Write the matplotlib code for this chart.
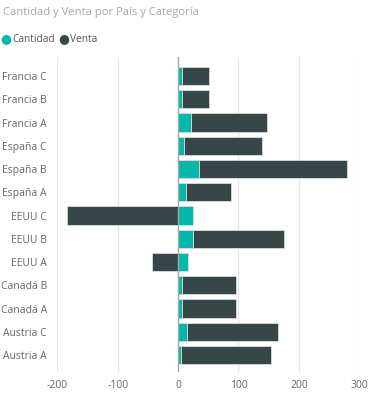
import matplotlib
matplotlib.use("Agg")
import matplotlib.pyplot as plt
import numpy as np

# categorias de arriba hacia abajo
categorias = ["Francia C", "Francia B", "Francia A", "España C", "España B", "España A",
              "EEUU C", "EEUU B", "EEUU A", "Canadá B", "Canadá A", "Austria C", "Austria A"]
cantidad = [6, 6, 22, 9, 34, 13, 24, 24, 17, 6, 6, 15, 4]
venta = [45, 45, 125, 130, 246, 75, -184, 151, -44, 90, 90, 150, 150]
ticks_x = [-200, -100, 0, 100, 200, 300]

color_cant = "#01B8AA"
color_venta = "#374649"

plt.rcParams['font.family'] = ['Open Sans', 'DejaVu Sans']

fig = plt.figure(figsize=(3.71, 3.94), dpi=100)
ax = fig.add_axes([57.3 / 371, 1 - 372 / 394, 302 / 371, 315 / 394])

n = len(categorias)
y = np.arange(n)[::-1]
cant = np.array(cantidad)
ven = np.array(venta)
izq_venta = np.where(ven > 0, cant, 0)

ax.barh(y, cant, height=0.78, color=color_cant, edgecolor="#d8dcdc", linewidth=0.6, zorder=3)
ax.barh(y, ven, left=izq_venta, height=0.78, color=color_venta, edgecolor="#d8dcdc",
        linewidth=0.6, zorder=3)

ax.set_xlim(-200, 300)
ax.set_ylim(-0.73, n - 1 + 0.82)
ax.set_xticks(ticks_x)
ax.set_xticklabels([str(t) for t in ticks_x])
ax.set_yticks(y)
ax.set_yticklabels(categorias)
ax.tick_params(length=0, labelsize=7.5, colors="#666666")
ax.tick_params(axis="y", pad=7.5)
ax.tick_params(axis="x", pad=6)
for t in ticks_x:
    if t != 0:
        ax.axvline(t, color="#e6e6e6", lw=0.9, zorder=0)
ax.axvline(0, color="#a8a8a8", lw=1, zorder=4)
for s in ax.spines.values():
    s.set_visible(False)

fig.text(3 / 371, 1 - 13 / 394, "Cantidad y Venta por País y Categoría", fontsize=8.1,
         color="#a6a6a6", va="center", ha="left")

# leyenda
fig.text(0.5 / 371, 1 - 39 / 394, "●", fontsize=9, color=color_cant, va="center", ha="left")
fig.text(12 / 371, 1 - 39 / 394, "Cantidad", fontsize=7.3, color="#555555", va="center", ha="left")
fig.text(58 / 371, 1 - 39 / 394, "●", fontsize=9, color=color_venta, va="center", ha="left")
fig.text(69.5 / 371, 1 - 39 / 394, "Venta", fontsize=7.3, color="#555555", va="center", ha="left")

fig.savefig("out.png", dpi=100)
